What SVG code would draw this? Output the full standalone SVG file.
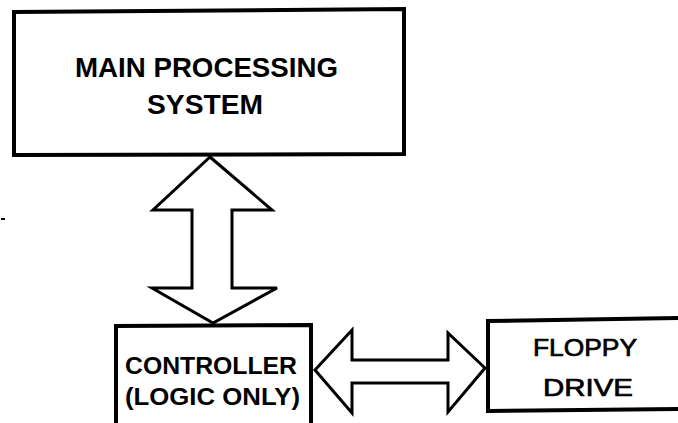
<svg xmlns="http://www.w3.org/2000/svg" width="678" height="423" viewBox="0 0 678 423">
  <style>
    .box { fill: #fff; stroke: #000; stroke-width: 4; stroke-linejoin: miter; }
    .arrow { fill: #fff; stroke: #000; stroke-width: 3; stroke-linejoin: miter; }
    .lbl { font-family: "Liberation Sans", Arial, Helvetica, sans-serif; font-weight: bold; fill: #000; text-anchor: middle; }
    .lbl-thin { font-family: "Liberation Sans", Arial, Helvetica, sans-serif; font-weight: normal; fill: #000; stroke: #000; stroke-width: 0.7; text-anchor: middle; }
  </style>
  <rect width="678" height="423" fill="#fff"/>

  <!-- host system -->
  <g id="main-processing-system">
    <path class="box" d="M14,12 L404,9 L404,154 L14,155 Z"/>
    <text class="lbl" x="206.5" y="77" font-size="28" textLength="263" lengthAdjust="spacingAndGlyphs">MAIN PROCESSING</text>
    <text class="lbl" x="205" y="114" font-size="28" textLength="116" lengthAdjust="spacingAndGlyphs">SYSTEM</text>
  </g>

  <!-- disk controller -->
  <g id="controller">
    <path class="box" d="M116,426 L116,326 L311,325 L311,426"/>
    <text class="lbl" x="211" y="374" font-size="24" textLength="172" lengthAdjust="spacingAndGlyphs">CONTROLLER</text>
    <text class="lbl" x="212.5" y="405" font-size="24" textLength="175" lengthAdjust="spacingAndGlyphs">(LOGIC ONLY)</text>
  </g>

  <!-- drive unit -->
  <g id="floppy-drive">
    <path class="box" d="M682,318 L488,321 L488,411 L682,409"/>
    <text class="lbl-thin" x="585" y="356" font-size="24" textLength="104" lengthAdjust="spacingAndGlyphs">FLOPPY</text>
    <text class="lbl-thin" x="588" y="396" font-size="24" textLength="90" lengthAdjust="spacingAndGlyphs">DRIVE</text>
  </g>

  <!-- bidirectional bus arrows -->
  <g id="connectors">
    <path class="arrow" d="M210,157 L272,210 L232,210 L232,288 L277,288 L213,323 L152,288 L192,288 L192,210 L153,210 Z"/>
    <path class="arrow" d="M315,370 L352,330 L352,360 L448,360 L448,333 L485,368 L448,412 L448,383 L352,383 L352,413 Z"/>
  </g>

  <!-- stray mark -->
  <rect x="1" y="218" width="4" height="2" fill="#000"/>
</svg>
